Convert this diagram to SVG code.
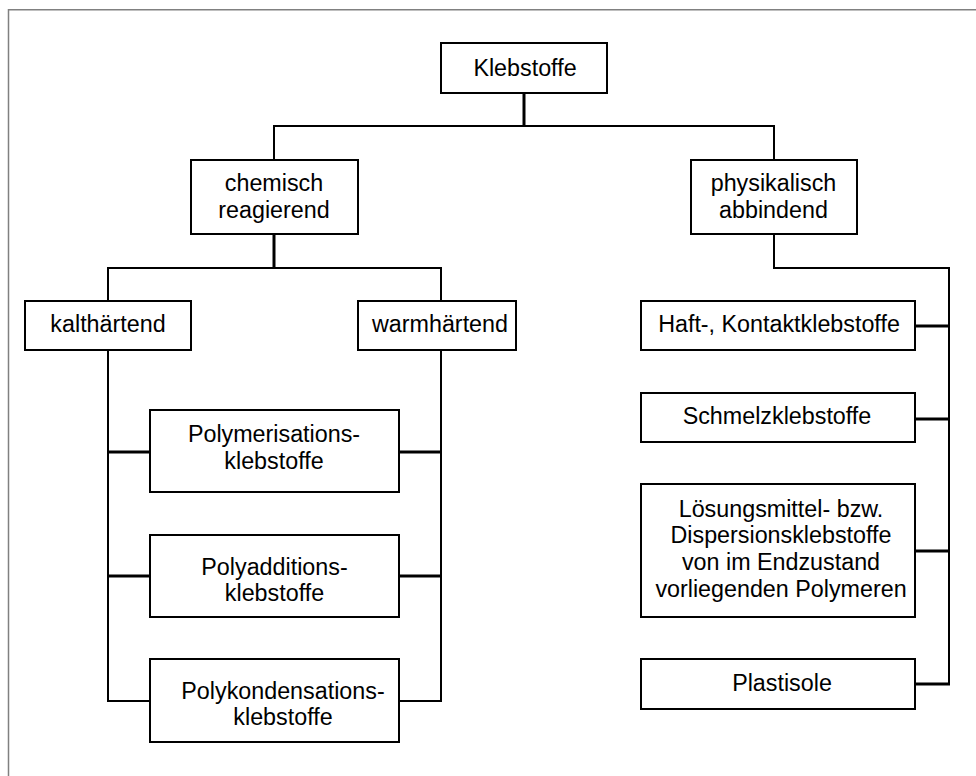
<svg xmlns="http://www.w3.org/2000/svg" width="976" height="776" viewBox="0 0 976 776">
  <style>
    .box { fill: #ffffff; stroke: #000000; stroke-width: 2; }
    .lbl { font-family: "Liberation Sans", Arial, sans-serif; font-size: 23.3px; fill: #000000; text-anchor: middle; }
    .wire { fill: none; stroke: #000000; stroke-width: 2; }
    .stub { fill: none; stroke: #000000; stroke-width: 3; }
    .frame { fill: none; stroke: #808080; stroke-width: 1.5; }
  </style>
  <rect x="0" y="0" width="976" height="776" fill="#ffffff"/>
  <!-- outer frame: top and left edges only -->
  <path class="frame" d="M8.5,776 V9.75 H976"/>

  <g id="connectors">
    <path class="stub" d="M524,93 V126"/>
    <path class="wire" d="M274,160 V126 H774 V160"/>
    <path class="stub" d="M274,234 V268"/>
    <path class="wire" d="M108,301 V268 H441 V301"/>
    <path class="wire" d="M774,234 V268 H949 V684"/>
    <path class="stub" d="M915,326 H949 M915,419 H949 M915,551 H949 M915,684 H950"/>
    <path class="wire" d="M108,350 V701 H150"/>
    <path class="stub" d="M108,452 H150 M108,576 H150"/>
    <path class="wire" d="M441,350 V701 H399"/>
    <path class="stub" d="M399,452 H441 M399,576 H441"/>
  </g>

  <g id="klebstoffe">
    <rect class="box" x="441" y="43" width="166" height="50"/>
    <text class="lbl" x="525" y="76">Klebstoffe</text>
  </g>
  <g id="chemisch">
    <rect class="box" x="191" y="160" width="167" height="74"/>
    <text class="lbl" x="274" y="191">chemisch</text>
    <text class="lbl" x="274" y="217.5">reagierend</text>
  </g>
  <g id="physikalisch">
    <rect class="box" x="691" y="160" width="166" height="74"/>
    <text class="lbl" x="773.5" y="191">physikalisch</text>
    <text class="lbl" x="773.5" y="217.5">abbindend</text>
  </g>
  <g id="kalthaertend">
    <rect class="box" x="25" y="301" width="166" height="49"/>
    <text class="lbl" x="108" y="332">kalthärtend</text>
  </g>
  <g id="warmhaertend">
    <rect class="box" x="358" y="301" width="158" height="49"/>
    <text class="lbl" x="440" y="332">warmhärtend</text>
  </g>
  <g id="polymerisation">
    <rect class="box" x="150" y="410" width="249" height="82"/>
    <text class="lbl" x="274" y="442">Polymerisations-</text>
    <text class="lbl" x="274" y="468.5">klebstoffe</text>
  </g>
  <g id="polyaddition">
    <rect class="box" x="150" y="535" width="249" height="82"/>
    <text class="lbl" x="274.5" y="575">Polyadditions-</text>
    <text class="lbl" x="274.5" y="601">klebstoffe</text>
  </g>
  <g id="polykondensation">
    <rect class="box" x="150" y="659" width="249" height="83"/>
    <text class="lbl" x="283" y="698.5">Polykondensations-</text>
    <text class="lbl" x="283" y="725">klebstoffe</text>
  </g>
  <g id="haftkontakt">
    <rect class="box" x="641" y="301" width="274" height="49"/>
    <text class="lbl" x="779" y="332">Haft-, Kontaktklebstoffe</text>
  </g>
  <g id="schmelz">
    <rect class="box" x="641" y="393" width="274" height="49"/>
    <text class="lbl" x="777" y="423.5">Schmelzklebstoffe</text>
  </g>
  <g id="loesungsmittel">
    <rect class="box" x="641" y="484" width="274" height="133"/>
    <text class="lbl" x="781" y="516.7">Lösungsmittel- bzw.</text>
    <text class="lbl" x="781" y="543.3">Dispersionsklebstoffe</text>
    <text class="lbl" x="781" y="570">von im Endzustand</text>
    <text class="lbl" x="781" y="596.7">vorliegenden Polymeren</text>
  </g>
  <g id="plastisole">
    <rect class="box" x="641" y="659" width="274" height="50"/>
    <text class="lbl" x="782" y="691">Plastisole</text>
  </g>
</svg>
